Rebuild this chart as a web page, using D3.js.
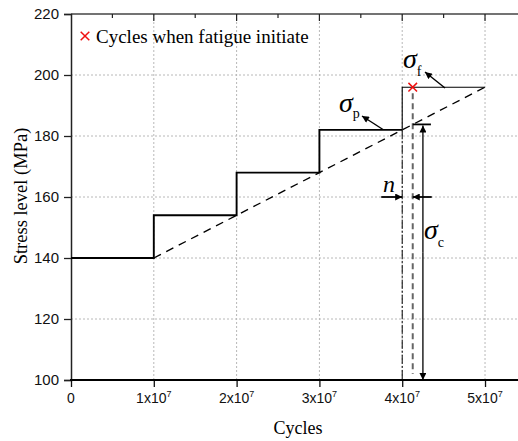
<!DOCTYPE html>
<html lang="en">
<head>
<meta charset="utf-8">
<title>stress steps</title>
<script type="text/javascript" src="https://d3js.org/d3.v7.min.js"></script>
<style>
body { margin: 0; background: #fff; }
text { font-family: "Liberation Sans", Arial, sans-serif; }
.serif { font-family: "Liberation Serif", "Times New Roman", serif; }
</style>
</head>
<body>
<div id="container"></div>
<script type="text/javascript">
// step loading: start cycle of each block and its stress level (MPa)
var stepCycles = [0, 1e7, 2e7, 3e7, 4e7];
var stepStress = [140, 154, 168, 182, 196];
var stepEnd = 5e7;
// dashed reference line (cycles, MPa)
var refCycles = [1e7, 5e7];
var refStress = [140, 196];
// cycles when fatigue initiates
var initCycles = [4.127e7];
var initStress = [196];
var sigmaCStress = 183.8;   // top of sigma_c arrow
var sigmaCCycles = 4.25e7;  // x of sigma_c arrow
var nStress = 160;          // level of the n arrows
var xTicks = [0, 1e7, 2e7, 3e7, 4e7, 5e7];
var xTickLabels = ["0", "1x10", "2x10", "3x10", "4x10", "5x10"];
var yTicks = [100, 120, 140, 160, 180, 200, 220];

var w = 518, h = 441;
var svg = d3.select("#container").append("svg").attr("width", w).attr("height", h);

var x = d3.scaleLinear().domain([0, 5.6e7]).range([71, 534.7]);
var y = d3.scaleLinear().domain([100, 220]).range([380, 14]);

var defs = svg.append("defs");
defs.append("marker").attr("id", "head").attr("viewBox", "0 0 10 10")
  .attr("refX", 10).attr("refY", 5).attr("markerWidth", 9).attr("markerHeight", 7)
  .attr("markerUnits", "userSpaceOnUse").attr("orient", "auto")
  .append("path").attr("d", "M0,0L10,5L0,10Z").attr("fill", "#000");

// grid
svg.append("g").selectAll("line").data(xTicks.slice(1)).enter().append("line")
  .attr("x1", d => x(d)).attr("x2", d => x(d)).attr("y1", y(100)).attr("y2", y(220))
  .attr("stroke", "#b8b8b8").attr("stroke-dasharray", "2,2");
svg.append("g").selectAll("line").data(yTicks.slice(1, -1)).enter().append("line")
  .attr("x1", x(0)).attr("x2", w).attr("y1", d => y(d)).attr("y2", d => y(d))
  .attr("stroke", "#b8b8b8").attr("stroke-dasharray", "2,2");

// top axis with inward ticks
var topAxis = svg.append("g");
topAxis.append("line").attr("x1", x(0)).attr("x2", w).attr("y1", y(220)).attr("y2", y(220))
  .attr("stroke", "#444").attr("stroke-width", 1.5);
d3.range(1, 12).forEach(function (i) {
  var v = i * 0.5e7;
  topAxis.append("line").attr("x1", x(v)).attr("x2", x(v)).attr("y1", y(220))
    .attr("y2", y(220) + (i % 2 === 0 ? 7 : 4)).attr("stroke", "#222").attr("stroke-width", 1.2);
});

// left axis
var yAxis = svg.append("g").attr("transform", "translate(" + x(0) + ",0)")
  .call(d3.axisLeft(y).tickValues(yTicks).tickSize(7).tickPadding(5));
yAxis.select(".domain").attr("stroke", "#222").attr("stroke-width", 1.5);
yAxis.selectAll(".tick line").attr("stroke", "#222").attr("stroke-width", 1.3);
yAxis.selectAll("text").attr("font-size", 15).attr("fill", "#111")
  .style("font-family", "'Liberation Sans', Arial, sans-serif");

// bottom axis
var xAxis = svg.append("g").attr("transform", "translate(0," + y(100) + ")")
  .call(d3.axisBottom(x).tickValues(xTicks).tickSize(7).tickFormat(""));
xAxis.select(".domain").remove();
xAxis.selectAll(".tick line").attr("stroke", "#111").attr("stroke-width", 1.3);
svg.append("line").attr("x1", x(0) - 1).attr("x2", w).attr("y1", y(100)).attr("y2", y(100))
  .attr("stroke", "#000").attr("stroke-width", 2);
var xl = svg.append("g").selectAll("text").data(xTicks).enter().append("text")
  .attr("x", d => x(d)).attr("y", y(100) + 23).attr("text-anchor", "middle")
  .attr("font-size", 14).attr("fill", "#111");
xl.append("tspan").text((d, i) => xTickLabels[i]);
xl.filter(d => d > 0).append("tspan").attr("dy", -6).attr("font-size", 9).text("7");

// axis titles
svg.append("text").attr("class", "serif").attr("x", 298).attr("y", 434)
  .attr("text-anchor", "middle").attr("font-size", 18).text("Cycles");
svg.append("text").attr("class", "serif")
  .attr("transform", "translate(27," + 196 + ") rotate(-90)")
  .attr("text-anchor", "middle").attr("font-size", 18.5).text("Stress level (MPa)");

// dashed reference line
svg.append("line").attr("x1", x(refCycles[0])).attr("y1", y(refStress[0]))
  .attr("x2", x(refCycles[1])).attr("y2", y(refStress[1]))
  .attr("stroke", "#000").attr("stroke-width", 1.4).attr("stroke-dasharray", "8,6");

// stepped stress path (first four blocks thick)
var pts = [];
for (var i = 0; i < 4; i++) {
  pts.push([stepCycles[i], stepStress[i]]);
  pts.push([i < 3 ? stepCycles[i + 1] : stepCycles[4], stepStress[i]]);
}
var line = d3.line().x(d => x(d[0])).y(d => y(d[1]));
svg.append("path").attr("d", line(pts)).attr("fill", "none")
  .attr("stroke", "#000").attr("stroke-width", 1.9);
// last block thin
svg.append("path").attr("d", line([[stepCycles[4], stepStress[3]], [stepCycles[4], stepStress[4]], [stepEnd, stepStress[4]]]))
  .attr("fill", "none").attr("stroke", "#000").attr("stroke-width", 1.1);

// dash-dot line at 4e7 down to axis
svg.append("line").attr("x1", x(stepCycles[4])).attr("x2", x(stepCycles[4]))
  .attr("y1", y(stepStress[3])).attr("y2", y(100))
  .attr("stroke", "#000").attr("stroke-width", 1).attr("stroke-dasharray", "9,2,2,2");

// dashed line at initiation
svg.append("line").attr("x1", x(initCycles[0])).attr("x2", x(initCycles[0]))
  .attr("y1", y(initStress[0]) + 6).attr("y2", y(100) - 6)
  .attr("stroke", "#666").attr("stroke-width", 2).attr("stroke-dasharray", "6,4");

// sigma_c double arrow
svg.append("line").attr("x1", x(initCycles[0])).attr("x2", x(sigmaCCycles) + 8)
  .attr("y1", y(sigmaCStress)).attr("y2", y(sigmaCStress)).attr("stroke", "#000").attr("stroke-width", 1.8);
svg.append("line").attr("x1", x(sigmaCCycles)).attr("x2", x(sigmaCCycles))
  .attr("y1", (y(sigmaCStress) + y(100)) / 2).attr("y2", y(sigmaCStress) + 1)
  .attr("stroke", "#000").attr("stroke-width", 1.3).attr("marker-end", "url(#head)");
svg.append("line").attr("x1", x(sigmaCCycles)).attr("x2", x(sigmaCCycles))
  .attr("y1", (y(sigmaCStress) + y(100)) / 2).attr("y2", y(100))
  .attr("stroke", "#000").attr("stroke-width", 1.3).attr("marker-end", "url(#head)");

// n arrows
svg.append("line").attr("x1", x(stepCycles[4]) - 21).attr("x2", x(stepCycles[4]))
  .attr("y1", y(nStress)).attr("y2", y(nStress)).attr("stroke", "#000").attr("stroke-width", 1.8)
  .attr("marker-end", "url(#head)");
svg.append("line").attr("x1", x(initCycles[0]) + 19).attr("x2", x(initCycles[0]))
  .attr("y1", y(nStress)).attr("y2", y(nStress)).attr("stroke", "#000").attr("stroke-width", 1.8)
  .attr("marker-end", "url(#head)");
svg.append("text").attr("class", "serif").attr("x", 383).attr("y", 192)
  .attr("font-size", 24).attr("font-style", "italic").text("n");

// sigma_p and sigma_f pointers
svg.append("line").attr("x1", 383).attr("y1", 129.5).attr("x2", 362).attr("y2", 116)
  .attr("stroke", "#000").attr("stroke-width", 1.4).attr("marker-end", "url(#head)");
svg.append("line").attr("x1", 445).attr("y1", 88).attr("x2", 425).attr("y2", 72)
  .attr("stroke", "#000").attr("stroke-width", 1.4).attr("marker-end", "url(#head)");

function sigma(px, py, sub, sdx, sdy) {
  var t = svg.append("text").attr("class", "serif").attr("x", px).attr("y", py);
  t.append("tspan").attr("font-size", 28).attr("font-style", "italic").text("\u03c3");
  t.append("tspan").attr("font-size", 14).attr("dx", sdx).attr("dy", sdy).text(sub);
}
sigma(339, 112, "p", 0, 6);
sigma(403, 68, "f", 0, 8);
sigma(424, 239, "c", 0, 8);

// initiation marker
svg.append("path").attr("d", d3.symbol().type(d3.symbolX).size(50)())
  .attr("transform", "translate(" + x(initCycles[0]) + "," + y(initStress[0]) + ")")
  .attr("fill", "none").attr("stroke", "#f01010").attr("stroke-width", 1.5);

// legend
svg.append("path").attr("d", d3.symbol().type(d3.symbolX).size(50)())
  .attr("transform", "translate(85,36)")
  .attr("fill", "none").attr("stroke", "#f01010").attr("stroke-width", 1.5);
svg.append("text").attr("class", "serif").attr("x", 96).attr("y", 43)
  .attr("font-size", 19).text("Cycles when fatigue initiate");
</script>
</body>
</html>
